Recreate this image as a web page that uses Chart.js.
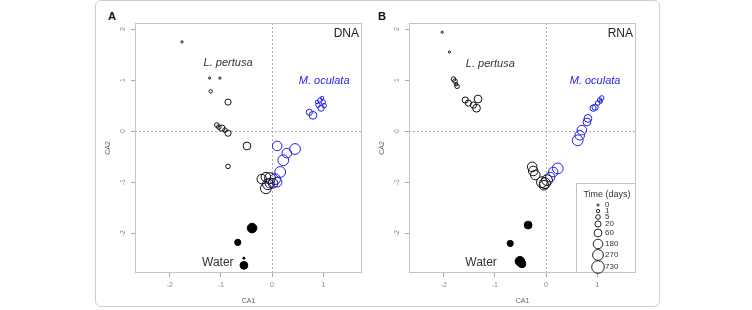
<!DOCTYPE html>
<html>
<head>
<meta charset="utf-8">
<script src="https://cdn.jsdelivr.net/npm/chart.js@4.4.1/dist/chart.umd.min.js"></script>
<style>
    body { margin: 0; background: #fff; width: 752px; height: 310px; position: relative; overflow: hidden; font-family: "Liberation Sans", Arial, sans-serif; }
    #frame { position: absolute; left: 95px; top: 0; width: 565px; height: 307px; border: 1px solid #cfcfcf; border-radius: 6px; box-sizing: border-box; }
    .panel { position: absolute; font-weight: bold; font-size: 11px; color: #111; }
    canvas { position: absolute; top: 0; }
</style>
</head>
<body>
<div id="frame"></div>
<div class="panel" style="left:108px; top:10px;">A</div>
<div class="panel" style="left:378px; top:10px;">B</div>
<canvas id="chartA" style="left:100px" width="270" height="310"></canvas>
<canvas id="chartB" style="left:374px" width="270" height="310"></canvas>
<script>
// axis ticks
const xTicks = [-2, -1, 0, 1];
const yTicks = [-2, -1, 0, 1, 2];

// sampling times and the circle size used for each
const timeLevels = [0, 1, 5, 20, 60, 180, 270, 730];
const timeRadius = [1.1, 1.7, 2.3, 3.1, 3.9, 4.8, 5.4, 6.3];

// DNA - L. pertusa
const dnaPertusaX = [-1.76, -1.22, -1.02, -1.20, -0.86, -1.08, -1.04, -0.98, -0.92, -0.86, -0.49, -0.86, -0.20, -0.12, -0.04, -0.08, 0.02, -0.12];
const dnaPertusaY = [1.75, 1.04, 1.04, 0.78, 0.57, 0.12, 0.08, 0.06, 0.02, -0.04, -0.29, -0.69, -0.94, -0.90, -0.92, -1.04, -1.02, -1.12];
const dnaPertusaT = [0, 0, 0, 1, 20, 5, 5, 20, 5, 20, 60, 5, 180, 180, 270, 270, 180, 270];
// DNA - M. oculata
const dnaOculataX = [0.98, 0.94, 1.00, 0.88, 0.90, 0.96, 1.02, 0.80, 0.73, 0.10, 0.45, 0.29, 0.22, 0.16, 0.06, -0.04, 0.10];
const dnaOculataY = [0.65, 0.61, 0.57, 0.57, 0.51, 0.45, 0.50, 0.31, 0.37, -0.29, -0.35, -0.43, -0.57, -0.80, -0.94, -1.02, -1.00];
const dnaOculataT = [1, 5, 5, 1, 5, 20, 5, 60, 20, 180, 270, 180, 270, 270, 270, 180, 180];
// DNA - Water
const dnaWaterX = [-0.39, -0.67, -0.55, -0.55];
const dnaWaterY = [-1.90, -2.18, -2.49, -2.63];
const dnaWaterT = [180, 20, 0, 60];

// RNA - L. pertusa
const rnaPertusaX = [-2.03, -1.89, -1.81, -1.78, -1.76, -1.74, -1.58, -1.52, -1.42, -1.33, -1.36, -0.27, -0.25, -0.21, -0.08, -0.02, 0.02, -0.04];
const rnaPertusaY = [1.94, 1.55, 1.02, 0.98, 0.92, 0.88, 0.61, 0.55, 0.51, 0.63, 0.45, -0.70, -0.78, -0.86, -1.00, -1.02, -0.96, -1.06];
const rnaPertusaT = [0, 0, 5, 5, 1, 5, 20, 20, 20, 60, 60, 180, 180, 180, 270, 270, 270, 180];
// RNA - M. oculata
const rnaOculataX = [1.09, 1.05, 1.07, 1.01, 0.96, 0.92, 0.82, 0.80, 0.70, 0.66, 0.62, 0.23, 0.14, 0.08];
const rnaOculataY = [0.65, 0.61, 0.58, 0.55, 0.47, 0.45, 0.25, 0.18, 0.02, -0.08, -0.18, -0.73, -0.80, -0.90];
const rnaOculataT = [5, 5, 1, 5, 20, 20, 60, 60, 180, 180, 270, 270, 180, 180];
// RNA - Water
const rnaWaterX = [-0.35, -0.70, -0.51, -0.47];
const rnaWaterY = [-1.84, -2.20, -2.55, -2.60];
const rnaWaterT = [60, 20, 180, 60];

const BLUE = '#1f1fe6';
const FONT = '"Liberation Sans", Arial, sans-serif';

const toPoints = (xs, ys) => xs.map((x, i) => ({ x: x, y: ys[i] }));
const toRadius = ts => ts.map(t => timeRadius[timeLevels.indexOf(t)]);

function group(xs, ys, ts, color, filled) {
    return {
        data: toPoints(xs, ys),
        pointRadius: toRadius(ts),
        pointHoverRadius: toRadius(ts),
        pointBorderColor: color,
        pointBackgroundColor: filled ? color : 'rgba(0,0,0,0)',
        pointBorderWidth: 1,
        showLine: false
    };
}

// box around the plot, text labels, size legend
const framePlugin = {
    id: 'frame',
    afterDatasetsDraw(chart, args, opts) {
        const { ctx, chartArea: a, scales: { x, y } } = chart;
        ctx.save();
        ctx.strokeStyle = '#c4c4c4';
        ctx.lineWidth = 1;
        ctx.strokeRect(Math.round(a.left) + 0.5, Math.round(a.top) + 0.5, Math.round(a.width) - 1, Math.round(a.height) - 1);

        ctx.textBaseline = 'middle';
        opts.notes.forEach(n => {
            ctx.font = (n.italic ? 'italic ' : '') + n.size + 'px ' + FONT;
            ctx.fillStyle = n.color;
            ctx.textAlign = 'center';
            ctx.fillText(n.text, x.getPixelForValue(n.x), y.getPixelForValue(n.y));
        });

        ctx.font = '12px ' + FONT;
        ctx.fillStyle = '#222';
        ctx.textAlign = 'right';
        ctx.fillText(opts.tag, a.right - 3, a.top + 11);

        if (opts.legend) {
            const bw = 60, bh = 90;
            const bx = a.right - bw, by = a.bottom - bh;
            ctx.strokeStyle = '#c4c4c4';
            ctx.strokeRect(Math.round(bx) + 0.5, Math.round(by) + 0.5, bw - 1, bh - 1);
            ctx.fillStyle = '#333';
            ctx.textAlign = 'center';
            ctx.font = '9px ' + FONT;
            ctx.fillText('Time (days)', bx + 31, by + 12);
            const offs = [22, 28, 34, 41, 50, 61, 72, 84];
            ctx.font = '8px ' + FONT;
            ctx.textAlign = 'left';
            ctx.strokeStyle = '#222';
            ctx.lineWidth = 1;
            timeLevels.forEach((t, i) => {
                const cy = by + offs[i];
                ctx.beginPath();
                ctx.arc(bx + 22, cy, timeRadius[i], 0, Math.PI * 2);
                ctx.stroke();
                ctx.fillText(String(t), bx + 29, cy);
            });
        }
        ctx.restore();
    }
};

function makeChart(id, sets, plugOpts) {
    new Chart(document.getElementById(id), {
        type: 'scatter',
        data: { datasets: sets },
        options: {
            responsive: false,
            animation: false,
            devicePixelRatio: 1,
            layout: { padding: { left: 0, top: 23, right: 8, bottom: 0 } },
            plugins: { legend: { display: false }, tooltip: { enabled: false }, frame: plugOpts },
            scales: {
                x: {
                    type: 'linear', min: -2.68, max: 1.76,
                    afterBuildTicks: s => { s.ticks = xTicks.map(v => ({ value: v })); },
                    afterFit: s => { s.height = 37; },
                    grid: {
                        color: c => (c.tick && c.tick.value === 0) ? '#b0b0b0' : 'rgba(0,0,0,0)',
                        tickColor: '#aaa', tickLength: 4, lineWidth: 1
                    },
                    border: { display: false, dash: [2, 2] },
                    ticks: { font: { size: 7, family: FONT }, color: '#888', padding: 4 },
                    title: { display: true, text: 'CA1', font: { size: 7, family: FONT }, color: '#666', padding: { top: 0, bottom: 5 } }
                },
                y: {
                    type: 'linear', min: -2.78, max: 2.12,
                    afterBuildTicks: s => { s.ticks = yTicks.map(v => ({ value: v })); },
                    afterFit: s => { s.width = 35; },
                    grid: {
                        color: c => (c.tick && c.tick.value === 0) ? '#b0b0b0' : 'rgba(0,0,0,0)',
                        tickColor: '#aaa', tickLength: 4, lineWidth: 1
                    },
                    border: { display: false, dash: [2, 2] },
                    ticks: { font: { size: 7, family: FONT }, color: '#888', padding: 5, minRotation: 90, maxRotation: 90, crossAlign: 'center' },
                    title: { display: true, text: 'CA2', font: { size: 7, family: FONT }, color: '#666', padding: { top: 4, bottom: 0 } }
                }
            }
        },
        plugins: [framePlugin]
    });
}

makeChart('chartA', [
    group(dnaWaterX, dnaWaterY, dnaWaterT, '#000', true),
    group(dnaPertusaX, dnaPertusaY, dnaPertusaT, '#111', false),
    group(dnaOculataX, dnaOculataY, dnaOculataT, BLUE, false)
], {
    tag: 'DNA', legend: false,
    notes: [
        { text: 'L. pertusa', x: -0.86, y: 1.33, size: 11, italic: true, color: '#333' },
        { text: 'M. oculata', x: 1.02, y: 0.98, size: 11, italic: true, color: BLUE },
        { text: 'Water', x: -1.06, y: -2.57, size: 12, italic: false, color: '#333' }
    ]
});

makeChart('chartB', [
    group(rnaWaterX, rnaWaterY, rnaWaterT, '#000', true),
    group(rnaPertusaX, rnaPertusaY, rnaPertusaT, '#111', false),
    group(rnaOculataX, rnaOculataY, rnaOculataT, BLUE, false)
], {
    tag: 'RNA', legend: true,
    notes: [
        { text: 'L. pertusa', x: -1.09, y: 1.31, size: 11, italic: true, color: '#333' },
        { text: 'M. oculata', x: 0.96, y: 0.98, size: 11, italic: true, color: BLUE },
        { text: 'Water', x: -1.27, y: -2.57, size: 12, italic: false, color: '#333' }
    ]
});
</script>
</body>
</html>
